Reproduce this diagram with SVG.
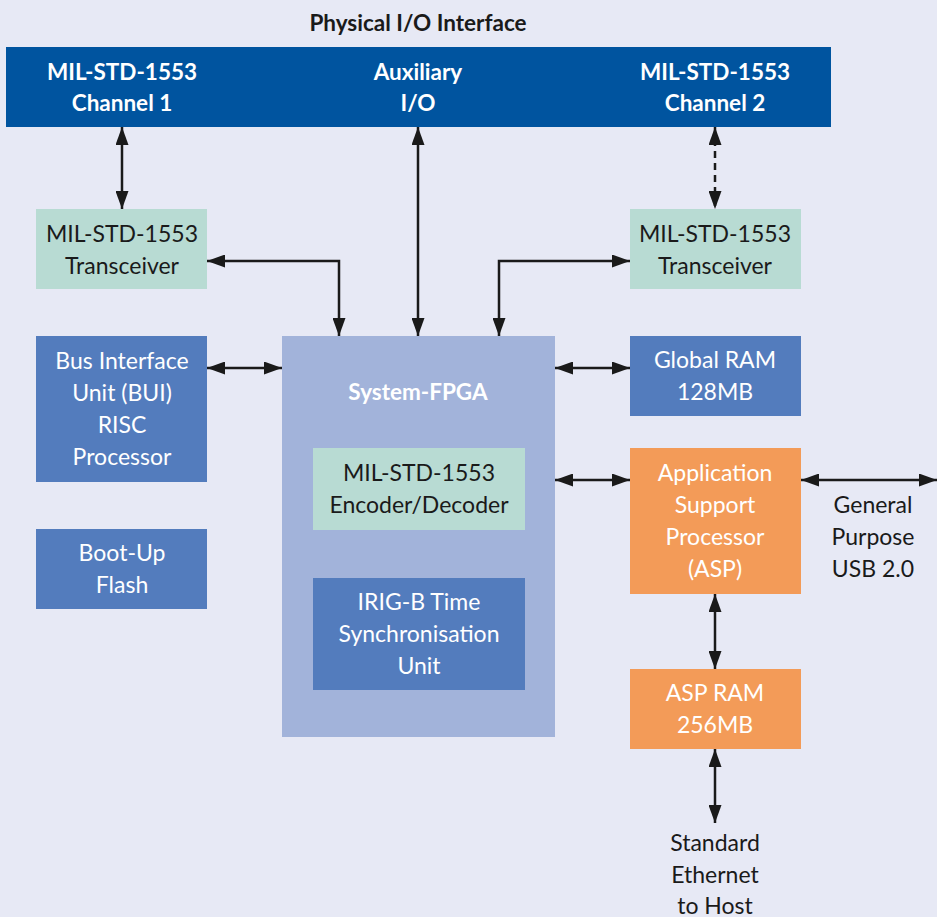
<svg xmlns="http://www.w3.org/2000/svg" width="937" height="917" viewBox="0 0 937 917">
<defs>
<marker id="ah" viewBox="0 0 18 13" refX="18" refY="6.5" markerWidth="18" markerHeight="13" markerUnits="userSpaceOnUse" orient="auto-start-reverse">
<path d="M0,0 L18,6.5 L0,13 z" fill="#1a1a1a"/>
</marker>
</defs>
<style>
text{font-family:Lato,"Liberation Sans",sans-serif;font-size:23px;text-anchor:middle}
.w{fill:#ffffff}
.d{fill:#1a1a1a}
.b{font-weight:bold;font-size:22.5px}
.bar{fill:#00549f}
.mid{fill:#537cbd}
.tea{fill:#b8dbd3}
.org{fill:#f39b58}
.fpga{fill:#a2b3da}
.c{fill:none;stroke:#1a1a1a;stroke-width:2.5;marker-start:url(#ah);marker-end:url(#ah)}
</style>
<rect width="937" height="917" fill="#e7e9f5"/>
<text class="d b" x="418" y="31">Physical I/O Interface</text>
<g id="io-bar">
<rect class="bar" x="6" y="47" width="825" height="80"/>
<text class="w b" x="122" y="80">MIL-STD-1553</text>
<text class="w b" x="122" y="111">Channel 1</text>
<text class="w b" x="418" y="80">Auxiliary</text>
<text class="w b" x="418" y="111">I/O</text>
<text class="w b" x="715" y="80">MIL-STD-1553</text>
<text class="w b" x="715" y="111">Channel 2</text>
</g>
<g id="transceiver1">
<rect class="tea" x="36" y="209" width="171" height="80"/>
<text class="d" x="122" y="242">MIL-STD-1553</text>
<text class="d" x="122" y="274">Transceiver</text>
</g>
<g id="transceiver2">
<rect class="tea" x="630" y="209" width="171" height="80"/>
<text class="d" x="715" y="242">MIL-STD-1553</text>
<text class="d" x="715" y="274">Transceiver</text>
</g>
<g id="bui">
<rect class="mid" x="36" y="336" width="171" height="146"/>
<text class="w" x="122" y="369">Bus Interface</text>
<text class="w" x="122" y="401">Unit (BUI)</text>
<text class="w" x="122" y="433">RISC</text>
<text class="w" x="122" y="465">Processor</text>
</g>
<g id="boot-flash">
<rect class="mid" x="36" y="529" width="171" height="80"/>
<text class="w" x="122" y="561">Boot-Up</text>
<text class="w" x="122" y="593">Flash</text>
</g>
<g id="system-fpga">
<rect class="fpga" x="282" y="336" width="273" height="401"/>
<text class="w b" x="418" y="400">System-FPGA</text>
</g>
<g id="encoder">
<rect class="tea" x="313" y="448" width="212" height="82"/>
<text class="d" x="419" y="481">MIL-STD-1553</text>
<text class="d" x="419" y="513">Encoder/Decoder</text>
</g>
<g id="irig">
<rect class="mid" x="313" y="578" width="212" height="112"/>
<text class="w" x="419" y="610">IRIG-B Time</text>
<text class="w" x="419" y="642">Synchronisation</text>
<text class="w" x="419" y="674">Unit</text>
</g>
<g id="global-ram">
<rect class="mid" x="630" y="336" width="171" height="80"/>
<text class="w" x="715" y="368">Global RAM</text>
<text class="w" x="715" y="400">128MB</text>
</g>
<g id="asp">
<rect class="org" x="630" y="448" width="171" height="146"/>
<text class="w" x="715" y="481">Application</text>
<text class="w" x="715" y="513">Support</text>
<text class="w" x="715" y="545">Processor</text>
<text class="w" x="715" y="577">(ASP)</text>
</g>
<g id="asp-ram">
<rect class="org" x="630" y="669" width="171" height="80"/>
<text class="w" x="715" y="701">ASP RAM</text>
<text class="w" x="715" y="733">256MB</text>
</g>
<g id="usb-label">
<text class="d" x="873" y="513">General</text>
<text class="d" x="873" y="545">Purpose</text>
<text class="d" x="873" y="577">USB 2.0</text>
</g>
<g id="ethernet-label">
<text class="d" x="715" y="851">Standard</text>
<text class="d" x="715" y="883">Ethernet</text>
<text class="d" x="715" y="914">to Host</text>
</g>
<g id="connectors">
<path class="c" d="M122,127 L122,209"/>
<path class="c" d="M715,127 L715,209" stroke-dasharray="7 5"/>
<path class="c" d="M418,127 L418,336"/>
<path class="c" d="M207,261 L339,261 L339,336"/>
<path class="c" d="M630,261 L499,261 L499,336"/>
<path class="c" d="M207,368 L282,368"/>
<path class="c" d="M555,368 L630,368"/>
<path class="c" d="M555,480 L630,480"/>
<path class="c" d="M801,480 L937,480"/>
<path class="c" d="M715,594 L715,669"/>
<path class="c" d="M715,749 L715,823"/>
</g>
</svg>
